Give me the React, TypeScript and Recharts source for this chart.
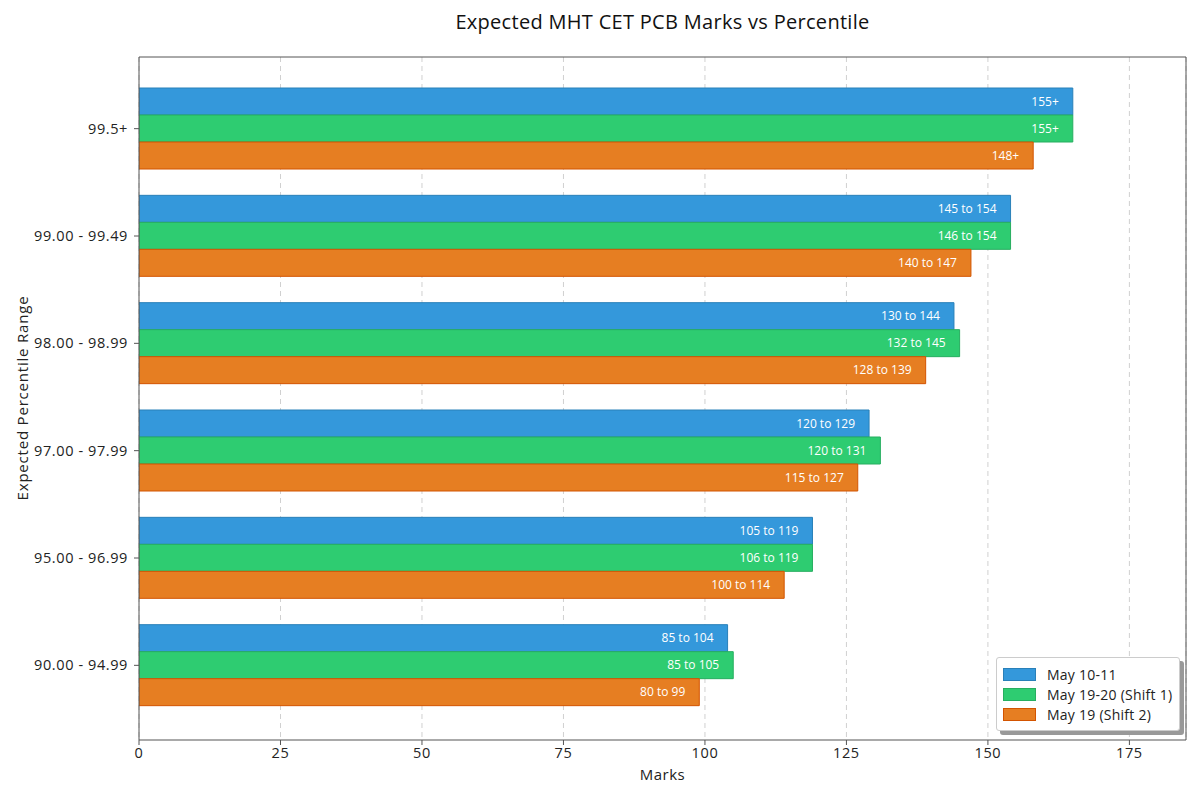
import React from 'react';
import { BarChart, Bar, XAxis, YAxis, CartesianGrid, LabelList } from 'recharts';

const ranges = ['99.5+', '99.00 - 99.49', '98.00 - 98.99', '97.00 - 97.99', '95.00 - 96.99', '90.00 - 94.99'];

const may1011 = [165, 154, 144, 129, 119, 104];
const may1920 = [165, 154, 145, 131, 119, 105];
const may19s2 = [158, 147, 139, 127, 114, 99];

const may1011Labels = ['155+', '145 to 154', '130 to 144', '120 to 129', '105 to 119', '85 to 104'];
const may1920Labels = ['155+', '146 to 154', '132 to 145', '120 to 131', '106 to 119', '85 to 105'];
const may19s2Labels = ['148+', '140 to 147', '128 to 139', '115 to 127', '100 to 114', '80 to 99'];

const xTicks = [0, 25, 50, 75, 100, 125, 150, 175];

const series = [
    { key: 'a', label: 'aLabel', name: 'May 10-11', fill: '#3498db', stroke: '#2980b9' },
    { key: 'b', label: 'bLabel', name: 'May 19-20 (Shift 1)', fill: '#2ecc71', stroke: '#27ae60' },
    { key: 'c', label: 'cLabel', name: 'May 19 (Shift 2)', fill: '#e67e22', stroke: '#d35400' },
];

const data = ranges.map((r, i) => ({
    range: r,
    a: may1011[i],
    b: may1920[i],
    c: may19s2[i],
    aLabel: may1011Labels[i],
    bLabel: may1920Labels[i],
    cLabel: may19s2Labels[i],
}));

const FONT = '"Open Sans", "Noto Sans", sans-serif';

// legend drawn as plain html so it does not eat space from the plot area
const LegendBox = () => (
    <div style={{ position: 'absolute', left: 996, top: 657, width: 188, height: 78 }}>
        <div style={{ position: 'absolute', left: 4, top: 4, width: 184, height: 74, background: '#999', borderRadius: 3 }} />
        <div
            style={{
                position: 'absolute', left: 0, top: 0, width: 184, height: 74,
                background: '#fff', border: '1px solid #ccc', borderRadius: 3,
                padding: '6px 0 0 6px', boxSizing: 'border-box',
            }}
        >
            {series.map((s) => (
                <div key={s.key} style={{ display: 'flex', alignItems: 'center', height: 20, fontSize: 14, letterSpacing: 0.25, color: '#222', whiteSpace: 'nowrap' }}>
                    <span style={{ display: 'inline-block', width: 31, height: 11, background: s.fill, border: `1px solid ${s.stroke}`, marginRight: 11 }} />
                    {s.name}
                </div>
            ))}
        </div>
    </div>
);

const tickStyle = { fontSize: 14.5, fill: '#222', letterSpacing: 0.6 };

export default function App() {
    return (
        <div style={{ position: 'absolute', left: 0, top: 0, width: 1200, height: 800, background: '#fff', fontFamily: FONT }}>
            <div style={{ position: 'absolute', top: 8, left: 139, width: 1047, textAlign: 'center', fontSize: 20, letterSpacing: 0.3, color: '#111' }}>
                Expected MHT CET PCB Marks vs Percentile
            </div>
            <div
                style={{
                    position: 'absolute', left: 22, top: 398, transform: 'translate(-50%, -50%) rotate(-90deg)',
                    fontSize: 15, letterSpacing: 0.8, color: '#222', whiteSpace: 'nowrap',
                }}
            >
                Expected Percentile Range
            </div>
            <div style={{ position: 'absolute', top: 764, left: 139, width: 1047, textAlign: 'center', fontSize: 15, letterSpacing: 0.5, color: '#222' }}>
                Marks
            </div>
            <BarChart
                width={1200}
                height={800}
                data={data}
                layout="vertical"
                barGap={0}
                margin={{ top: 56, right: 13, bottom: 30, left: 0 }}
                style={{ fontFamily: FONT }}
            >
                <CartesianGrid horizontal={false} vertical strokeDasharray="5 4" stroke="#d0d0d0" />
                <XAxis
                    type="number"
                    domain={[0, 185]}
                    ticks={xTicks}
                    allowDataOverflow
                    tick={tickStyle}
                    tickSize={5}
                    tickMargin={3}
                    stroke="#555"
                    height={30}
                />
                <XAxis xAxisId="top" orientation="top" type="number" domain={[0, 185]} tick={false} tickLine={false} stroke="#555" height={1} />
                <YAxis
                    type="category"
                    dataKey="range"
                    width={139}
                    padding={{ top: 18, bottom: 21 }}
                    tick={tickStyle}
                    tickSize={5}
                    tickMargin={6}
                    stroke="#555"
                />
                <YAxis yAxisId="right" orientation="right" type="number" tick={false} tickLine={false} stroke="#555" width={1} />
                {series.map((s) => (
                    <Bar
                        key={s.key}
                        dataKey={s.key}
                        name={s.name}
                        fill={s.fill}
                        stroke={s.stroke}
                        strokeWidth={1}
                        barSize={27}
                        isAnimationActive={false}
                    >
                        <LabelList dataKey={s.label} position="insideRight" offset={14} fill="#fff" fontSize={12} />
                    </Bar>
                ))}
            </BarChart>
            <LegendBox />
        </div>
    );
}
